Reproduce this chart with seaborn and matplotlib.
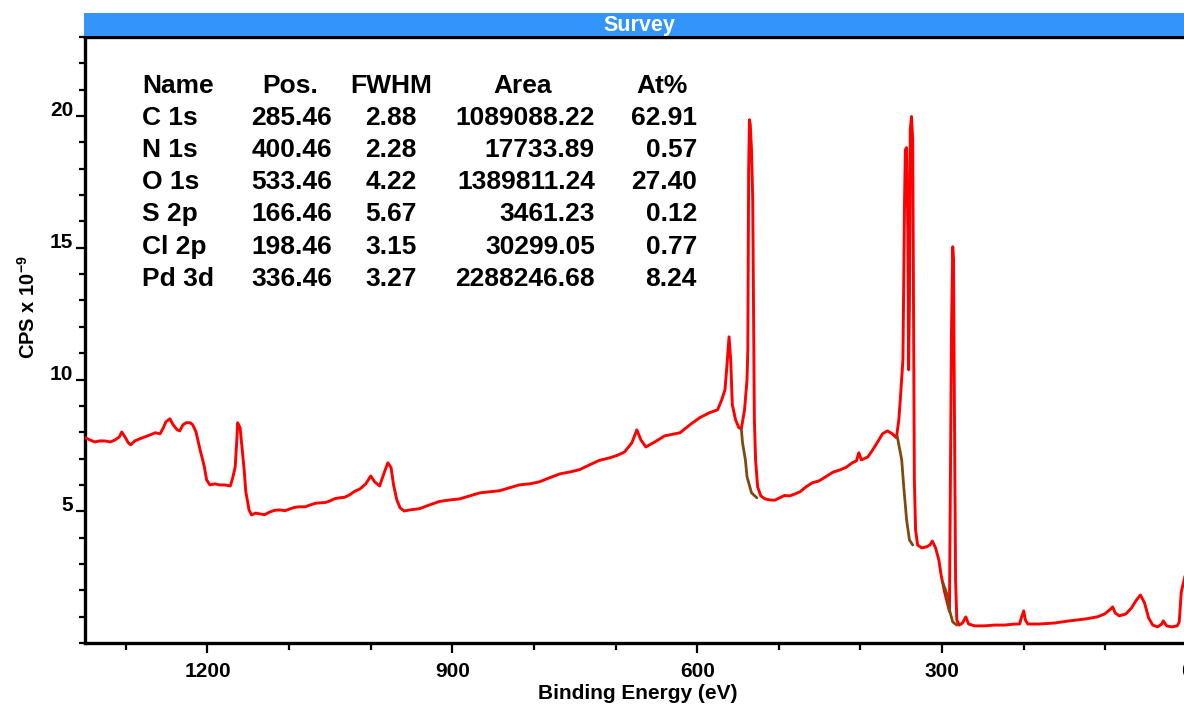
import matplotlib
matplotlib.use("Agg")
import matplotlib.pyplot as plt
from matplotlib.patches import Rectangle
from matplotlib.ticker import MultipleLocator, FixedLocator
import pandas as pd
import seaborn as sns

# ---- survey spectrum (binding energy in eV, CPS x 1e-9) ----
energy_ev = [
    1350, 1344, 1338, 1332, 1326, 1319, 1313, 1308, 1305, 1301, 1297, 1294,
    1289, 1283, 1277, 1270, 1264, 1258, 1254, 1251, 1246, 1242, 1237, 1234,
    1230, 1226, 1221, 1218, 1214, 1209, 1204, 1201, 1197, 1191, 1185, 1179,
    1172, 1169, 1166, 1164, 1163, 1160, 1158, 1155, 1153, 1149, 1146, 1141,
    1136, 1130, 1123, 1117, 1111, 1105, 1099, 1093, 1087, 1080, 1074, 1068,
    1062, 1056, 1050, 1044, 1038, 1032, 1026, 1020, 1013, 1006, 1000,
    995, 989, 984, 979, 975, 972, 968, 964, 959, 952, 940, 928, 916, 903,
    891, 879, 866, 854, 842, 830, 818, 805, 793, 781, 768, 756, 744, 732,
    720, 707, 698, 689, 680, 674, 669, 663, 652, 640, 621,
    609, 597, 585, 575, 570, 566, 564, 561, 559, 557, 553, 549, 546, 542,
    539, 538, 537, 536, 535, 533.5, 532, 531, 530, 528.5, 526, 522, 517,
    511, 505, 499, 493, 487, 480, 474, 467, 459, 451, 443, 434, 425, 418,
    410, 405, 402, 399, 391, 385, 379,
    373, 367, 361, 356, 353, 351, 348, 347, 346, 345, 343.5, 342, 341, 340,
    339, 337.5, 336, 335, 334, 332.5, 330, 325, 319, 315, 312, 308, 304,
    301, 297, 293, 291, 290, 288.5, 287, 286, 285, 283.5, 282, 279, 275,
    271, 267.5, 260, 248, 236, 223.5, 211, 205, 203, 200, 198, 195, 181,
    162, 144, 125, 110, 101, 95, 91, 88, 83, 75, 68, 62, 57, 52, 47, 42,
    36, 31, 29, 25, 19, 12, 9.5, 7, 5, 2,
]
cps = [
    7.79, 7.71, 7.63, 7.67, 7.67, 7.63, 7.71, 7.82, 8.01, 7.82, 7.60, 7.52,
    7.67, 7.75, 7.82, 7.90, 7.98, 7.94, 8.17, 8.39, 8.51, 8.28, 8.09, 8.05,
    8.28, 8.36, 8.36, 8.28, 8.01, 7.33, 6.72, 6.19, 6.00, 6.04, 6.00, 6.00,
    5.96, 6.27, 6.68, 7.71, 8.36, 8.17, 7.52, 6.57, 5.74, 5.05, 4.86, 4.93,
    4.90, 4.87, 4.98, 5.04, 5.05, 5.02, 5.09, 5.15, 5.17, 5.17, 5.24, 5.30,
    5.32, 5.33, 5.39, 5.48, 5.51, 5.53, 5.62, 5.75, 5.85, 6.04, 6.34,
    6.11, 5.96, 6.42, 6.84, 6.65, 6.00, 5.43, 5.13, 5.01, 5.05, 5.10, 5.24,
    5.37, 5.43, 5.47, 5.58, 5.70, 5.74, 5.78, 5.89, 6.00, 6.04, 6.12, 6.27,
    6.42, 6.49, 6.58, 6.76, 6.93, 7.03, 7.12, 7.25, 7.60, 8.09, 7.71,
    7.44, 7.63, 7.86, 7.98, 8.28, 8.55, 8.74, 8.85, 9.23, 9.61, 10.37, 11.62,
    10.75, 9.04, 8.47, 8.17, 8.13, 8.85, 9.99, 11.13, 17.96, 19.86, 19.67,
    18.72, 16.82, 12.53, 8.47, 6.95, 5.92, 5.58, 5.47, 5.43, 5.42, 5.51,
    5.60, 5.58, 5.66, 5.74, 5.92, 6.08, 6.15, 6.30, 6.48, 6.57, 6.66,
    6.84, 6.91, 7.22, 6.95, 7.06, 7.33, 7.63, 7.94,
    8.05, 7.94, 7.79, 8.47, 9.34, 10.75, 13.98, 16.82, 18.72, 18.80, 15.69,
    10.37, 13.03, 19.48, 19.98, 19.10, 13.03, 6.19, 4.29, 3.72, 3.61, 3.65,
    3.72, 3.87, 3.61, 3.15, 2.54, 1.94, 1.44, 1.20, 5.43, 11.89, 15.04, 14.55,
    9.23, 2.39, 0.87, 0.68, 0.76, 0.99, 0.72, 0.65, 0.65, 0.68, 0.68, 0.72,
    0.72, 0.95, 1.22, 0.87, 0.72, 0.72, 0.76, 0.84, 0.91, 0.99, 1.10, 1.25,
    1.37, 1.14, 1.03, 1.10, 1.33, 1.63, 1.82, 1.52, 0.95, 0.68, 0.61, 0.72,
    0.84, 0.65, 0.61, 0.65, 0.80, 1.94, 2.20, 2.60,
]

# ---- Shirley-type backgrounds under the fitted regions ----
bg_o1s_ev = [546, 544.5, 541, 539, 533.5, 527]
bg_o1s_cps = [8.13, 7.60, 6.95, 6.31, 5.70, 5.51]
bg_pd3d_ev = [355, 349.5, 347, 343.5, 340, 336]
bg_pd3d_cps = [7.85, 6.95, 5.93, 4.67, 3.91, 3.72]
bg_c1s_ev = [299.5, 294.5, 291, 287, 282]
bg_c1s_cps = [2.32, 1.90, 1.25, 0.80, 0.68]

# ---- quantification table ----
names = ["C 1s", "N 1s", "O 1s", "S 2p", "Cl 2p", "Pd 3d"]
positions = ["285.46", "400.46", "533.46", "166.46", "198.46", "336.46"]
fwhm = ["2.88", "2.28", "4.22", "5.67", "3.15", "3.27"]
areas = ["1089088.22", "17733.89", "1389811.24", "3461.23", "30299.05", "2288246.68"]
at_pct = ["62.91", "0.57", "27.40", "0.12", "0.77", "8.24"]

x_major = [1200, 900, 600, 300, 0]
y_major = [5, 10, 15, 20]

W, H = 1184, 706

sns.set_style("ticks")
plt.rcParams["font.family"] = ["Liberation Sans", "DejaVu Sans"]
plt.rcParams["font.weight"] = "bold"
plt.rcParams["text.color"] = "black"
plt.rcParams["axes.labelcolor"] = "black"
plt.rcParams["xtick.color"] = "black"
plt.rcParams["ytick.color"] = "black"
plt.rcParams["mathtext.fontset"] = "custom"
plt.rcParams["mathtext.rm"] = "Liberation Sans:bold"
plt.rcParams["mathtext.bf"] = "Liberation Sans:bold"
plt.rcParams["mathtext.it"] = "Liberation Sans:bold"


def fx(px):
    return px / W


def fy(py):
    return 1 - py / H


fig = plt.figure(figsize=(W / 100, H / 100), dpi=100)
ax = fig.add_axes([fx(85), fy(643), (1187 - 85) / W, (643 - 37) / H])

spec = pd.DataFrame({"energy": energy_ev, "cps": cps})
sns.lineplot(data=spec, x="energy", y="cps", color="#ff0000", linewidth=2.1,
             sort=False, estimator=None, ax=ax, zorder=3)
for bx, by in [(bg_o1s_ev, bg_o1s_cps), (bg_pd3d_ev, bg_pd3d_cps), (bg_c1s_ev, bg_c1s_cps)]:
    bg = pd.DataFrame({"energy": bx, "cps": by})
    sns.lineplot(data=bg, x="energy", y="cps", color="#7f4a10", linewidth=2.0,
                 sort=False, estimator=None, ax=ax, zorder=4)

ax.set_xlim(1350, 0)
ax.set_ylim(0, 23)

ax.xaxis.set_major_locator(FixedLocator(x_major))
ax.xaxis.set_minor_locator(MultipleLocator(100))
ax.yaxis.set_major_locator(FixedLocator(y_major))
ax.yaxis.set_minor_locator(MultipleLocator(1))

for side in ["left", "bottom", "top"]:
    ax.spines[side].set_linewidth(2.4)
    ax.spines[side].set_color("black")
ax.spines["right"].set_visible(False)

ax.tick_params(axis="x", which="major", length=7.5, width=1.6, pad=6,
               labelsize=15, direction="out", colors="black")
ax.tick_params(axis="x", which="minor", length=5, width=1.6, direction="out")
ax.tick_params(axis="y", which="major", length=6.5, width=1.6, pad=2,
               labelsize=15, direction="out", colors="black")
ax.tick_params(axis="y", which="minor", length=4.5, width=1.6, direction="out")
for lab in ax.get_xticklabels() + ax.get_yticklabels():
    lab.set_fontweight("bold")
for lab in ax.get_yticklabels():
    lab.set_verticalalignment("baseline")

ax.set_xlabel("Binding Energy (eV)", fontsize=15, fontweight="bold")
ax.xaxis.set_label_coords((638 - 85) / 1102, -(684 - 643) / 606)
ax.set_ylabel(r"CPS x 10$^{-9}$", fontsize=14.5, fontweight="bold")
ax.yaxis.set_label_coords(-(85 - 39) / 1102, (643 - 307) / 606)

# title bar
fig.patches.append(Rectangle((fx(84), fy(36)), 1 - fx(84), (36 - 13) / H,
                             transform=fig.transFigure, facecolor="#3395fb",
                             edgecolor="none", zorder=5))
fig.text(fx(639), fy(25), "Survey", color="white", fontsize=15.5,
         fontweight="bold", ha="center", va="center", zorder=6)

# quantification table
tfs = 19
base = [93, 125, 157, 189, 221, 254, 286]
fig.text(fx(142), fy(base[0]), "Name", fontsize=tfs, fontweight="bold", ha="left", va="baseline")
fig.text(fx(290), fy(base[0]), "Pos.", fontsize=tfs, fontweight="bold", ha="center", va="baseline")
fig.text(fx(391), fy(base[0]), "FWHM", fontsize=tfs, fontweight="bold", ha="center", va="baseline")
fig.text(fx(523), fy(base[0]), "Area", fontsize=tfs, fontweight="bold", ha="center", va="baseline")
fig.text(fx(662), fy(base[0]), "At%", fontsize=tfs, fontweight="bold", ha="center", va="baseline")
for i in range(len(names)):
    yb = fy(base[i + 1])
    fig.text(fx(142), yb, names[i], fontsize=tfs, fontweight="bold", ha="left", va="baseline")
    fig.text(fx(332), yb, positions[i], fontsize=tfs, fontweight="bold", ha="right", va="baseline")
    fig.text(fx(417), yb, fwhm[i], fontsize=tfs, fontweight="bold", ha="right", va="baseline")
    fig.text(fx(595), yb, areas[i], fontsize=tfs, fontweight="bold", ha="right", va="baseline")
    fig.text(fx(697), yb, at_pct[i], fontsize=tfs, fontweight="bold", ha="right", va="baseline")

fig.savefig("out.png", dpi=100)
